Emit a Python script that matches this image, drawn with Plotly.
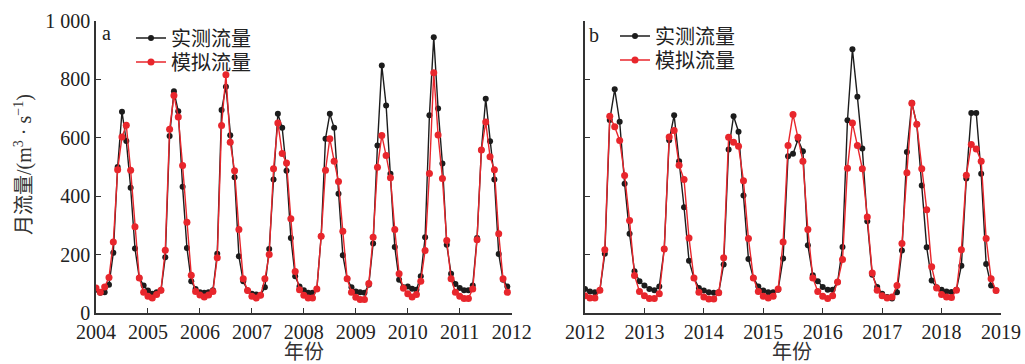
import plotly.graph_objects as go

# ---- data (monthly, m3/s) ----
start_a = 2004
obs_a = [80, 69, 71, 97, 206, 500, 689, 589, 429, 221, 120, 94,
         77, 66, 71, 77, 191, 606, 759, 691, 432, 223, 109, 82,
         71, 69, 71, 78, 203, 695, 775, 609, 465, 194, 109, 77,
         66, 63, 61, 88, 219, 457, 682, 634, 487, 257, 126, 91,
         78, 69, 69, 82, 263, 597, 682, 634, 408, 198, 117, 88,
         74, 71, 69, 97, 238, 574, 848, 711, 477, 226, 114, 88,
         91, 83, 80, 126, 259, 677, 944, 700, 512, 234, 134, 99,
         86, 78, 78, 94, 257, 558, 734, 588, 457, 202, 114, 91]
sim_a = [86, 71, 89, 122, 243, 491, 603, 643, 489, 295, 120, 71,
         57, 51, 63, 78, 215, 629, 745, 671, 505, 311, 129, 74,
         62, 55, 62, 74, 189, 642, 816, 585, 487, 286, 117, 77,
         57, 51, 61, 117, 200, 494, 651, 546, 514, 323, 142, 80,
         61, 51, 51, 82, 263, 489, 597, 520, 450, 280, 117, 71,
         54, 46, 46, 101, 259, 499, 608, 539, 463, 286, 134, 85,
         66, 55, 63, 109, 214, 478, 823, 610, 461, 248, 117, 71,
         57, 50, 50, 82, 251, 558, 654, 535, 491, 271, 117, 71]

start_b = 2012
obs_b = [82, 74, 71, 78, 203, 661, 766, 655, 443, 271, 143, 109,
         94, 82, 78, 91, 219, 592, 677, 520, 362, 179, 120, 86,
         77, 71, 69, 71, 166, 560, 674, 621, 402, 185, 120, 91,
         77, 71, 71, 80, 187, 537, 545, 594, 554, 232, 129, 109,
         89, 80, 80, 105, 226, 660, 903, 741, 563, 314, 131, 89,
         66, 55, 50, 71, 214, 551, 720, 646, 437, 225, 111, 88,
         80, 74, 72, 80, 162, 461, 685, 685, 477, 168, 94, 77]
sim_b = [59, 51, 51, 78, 217, 674, 638, 591, 471, 317, 128, 74,
         59, 50, 50, 66, 219, 603, 625, 506, 457, 257, 120, 71,
         55, 48, 48, 69, 189, 602, 585, 571, 453, 255, 120, 74,
         57, 51, 57, 82, 243, 574, 680, 602, 520, 286, 120, 74,
         57, 50, 59, 106, 183, 496, 651, 574, 494, 329, 137, 78,
         59, 51, 55, 94, 238, 480, 718, 646, 494, 354, 158, 86,
         63, 55, 53, 78, 217, 472, 577, 562, 520, 255, 117, 77]

years_a = list(range(2004, 2013))
years_b = list(range(2012, 2020))
y_ticks = [0, 200, 400, 600, 800, 1000]
y_ticktext = ["0", "200", "400", "600", "800", "1 000"]
name_obs = "实测流量"
name_sim = "模拟流量"

BLACK = "#1c1c1c"
RED = "#e8262c"
FONT = "Liberation Serif, Times New Roman, Noto Sans CJK SC"

W, H = 1025, 364
ML, MR, MT, MB = 96, 24, 21, 51
PW, PH = W - ML - MR, H - MT - MB

def px_x(x):
    return (x - ML) / PW

def px_y(y):
    return (H - MB - y) / PH

def xs(start, n):
    return [start + i / 12 for i in range(n)]

fig = go.Figure()
series = [
    (start_a, obs_a, name_obs, BLACK, 6, "x", "y", "legend"),
    (start_a, sim_a, name_sim, RED, 7, "x", "y", "legend3"),
    (start_b, obs_b, name_obs, BLACK, 6, "x2", "y2", "legend2"),
    (start_b, sim_b, name_sim, RED, 7, "x2", "y2", "legend4"),
]
for start, vals, name, col, msize, xa, ya, lg in series:
    fig.add_trace(go.Scatter(x=xs(start, len(vals)), y=vals, name=name, mode="lines+markers",
                             line=dict(color=col, width=1.4), marker=dict(color=col, size=msize),
                             xaxis=xa, yaxis=ya, legend=lg, hoverinfo="skip"))

axis_common = dict(showgrid=False, zeroline=False, showline=True, linecolor="#333", linewidth=1.5,
                   ticks="inside", ticklen=5, tickwidth=1, tickcolor="#333", automargin=False,
                   tickfont=dict(family=FONT, size=20, color="#222"))

def leg(xpix, ycenter):
    return dict(x=px_x(xpix), y=px_y(ycenter), xanchor="left", yanchor="middle",
                bgcolor="rgba(0,0,0,0)", borderwidth=0,
                font=dict(family=FONT, size=20, color="#222"), itemwidth=30)

fig.update_layout(
    width=W, height=H,
    margin=dict(l=ML, r=MR, t=MT, b=MB),
    paper_bgcolor="white", plot_bgcolor="white",
    font=dict(family=FONT, size=20, color="#222"),
    xaxis=dict(domain=[0, px_x(511.7)], range=[2004, 2012], tickvals=years_a,
               ticktext=[str(y) for y in years_a], anchor="y", **axis_common),
    yaxis=dict(range=[0, 1000], tickvals=y_ticks, ticktext=y_ticktext, anchor="x", **axis_common),
    xaxis2=dict(domain=[px_x(585), 1], range=[2012, 2019], tickvals=years_b,
                ticktext=[str(y) for y in years_b], anchor="y2", **axis_common),
    yaxis2=dict(range=[0, 1000], tickvals=y_ticks, showticklabels=False, anchor="x2", **axis_common),
    legend=leg(131, 38),
    legend3=leg(131, 62),
    legend2=leg(615, 36),
    legend4=leg(615, 60),
    showlegend=True,
)

def ann(text, x, y, angle=0, color="#222"):
    fig.add_annotation(text=text, xref="paper", yref="paper", x=px_x(x), y=px_y(y),
                       xanchor="center", yanchor="middle", textangle=angle, showarrow=False,
                       font=dict(family=FONT, size=20, color=color))

ann("a", 106, 33)
ann("b", 594, 35)
ann("月流量/(m<sup>3</sup> · s<sup>−1</sup>)", 23, 165, angle=-90, color="#333")
ann("年份", 304, 352, color="#333")
ann("年份", 792, 352, color="#333")

fig.write_html("out.html", config={"displayModeBar": False},
               post_script="document.body.style.margin='0';document.body.style.overflow='hidden';")
